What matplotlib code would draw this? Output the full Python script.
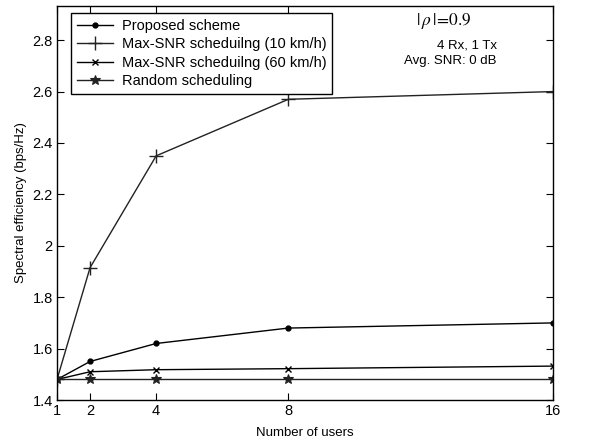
import matplotlib
matplotlib.use("Agg")
import matplotlib.pyplot as plt

plt.rcParams['font.family'] = ['Liberation Sans', 'DejaVu Sans']

users = [1, 2, 4, 8, 16]
proposed = [1.48, 1.55, 1.62, 1.68, 1.70]
maxsnr_10 = [1.48, 1.915, 2.35, 2.57, 2.60]
maxsnr_60 = [1.48, 1.51, 1.518, 1.522, 1.532]
random_sched = [1.48, 1.48, 1.48, 1.48, 1.48]

labels = ["Proposed scheme", "Max-SNR scheduilng (10 km/h)",
          "Max-SNR scheduilng (60 km/h)", "Random scheduling"]
yticks = [1.4, 1.6, 1.8, 2.0, 2.2, 2.4, 2.6, 2.8]
ytick_labels = ["1.4", "1.6", "1.8", "2", "2.2", "2.4", "2.6", "2.8"]

fig = plt.figure(figsize=(5.97, 4.43), dpi=100)
ax = fig.add_axes([0.0955, 0.097, 0.8305, 0.8895])

lw = 1.0
ax.plot(users, proposed, color='black', lw=lw, marker='o', ms=3.5, label=labels[0])
ax.plot(users, maxsnr_10, color='#222222', lw=lw, marker='+', ms=10, mew=1.0, label=labels[1])
ax.plot(users, maxsnr_60, color='black', lw=lw, marker='x', ms=5, mew=1.0, label=labels[2])
ax.plot(users, random_sched, color='#222222', lw=lw, marker='*', ms=7, mew=0.8, label=labels[3])

ax.set_xlim(1, 16)
ax.set_ylim(1.4, 2.933)
ax.set_xticks(users)
ax.set_xticklabels([str(u) for u in users])
ax.set_yticks(yticks)
ax.set_yticklabels(ytick_labels)
ax.tick_params(direction='in', top=True, right=True, length=5, width=0.8,
               labelsize=10.5, pad=3)
for s in ax.spines.values():
    s.set_linewidth(1.0)

ax.set_xlabel("Number of users", fontsize=9.5, labelpad=6)
ax.set_ylabel("Spectral efficiency (bps/Hz)", fontsize=9.5, labelpad=4)

leg = ax.legend(loc='upper left', bbox_to_anchor=(0.028, 0.982), fontsize=10.5,
                frameon=True, fancybox=False, edgecolor='black', framealpha=1,
                handlelength=2.5, borderpad=0.4, labelspacing=0.3, handletextpad=0.6,
                borderaxespad=0)
leg.get_frame().set_linewidth(1.0)

fig.text(444/597, 1 - 21/443, r"$|\,\rho\,|\!=\!0.9$", fontsize=12.5,
         ha='center', va='center', math_fontfamily='stix')
fig.text(497/597, 1 - 45/443, "4 Rx, 1 Tx", ha='right', va='center', fontsize=9.5)
fig.text(497/597, 1 - 61/443, "Avg. SNR: 0 dB", ha='right', va='center', fontsize=9.5)

fig.savefig("out.png", dpi=100)
